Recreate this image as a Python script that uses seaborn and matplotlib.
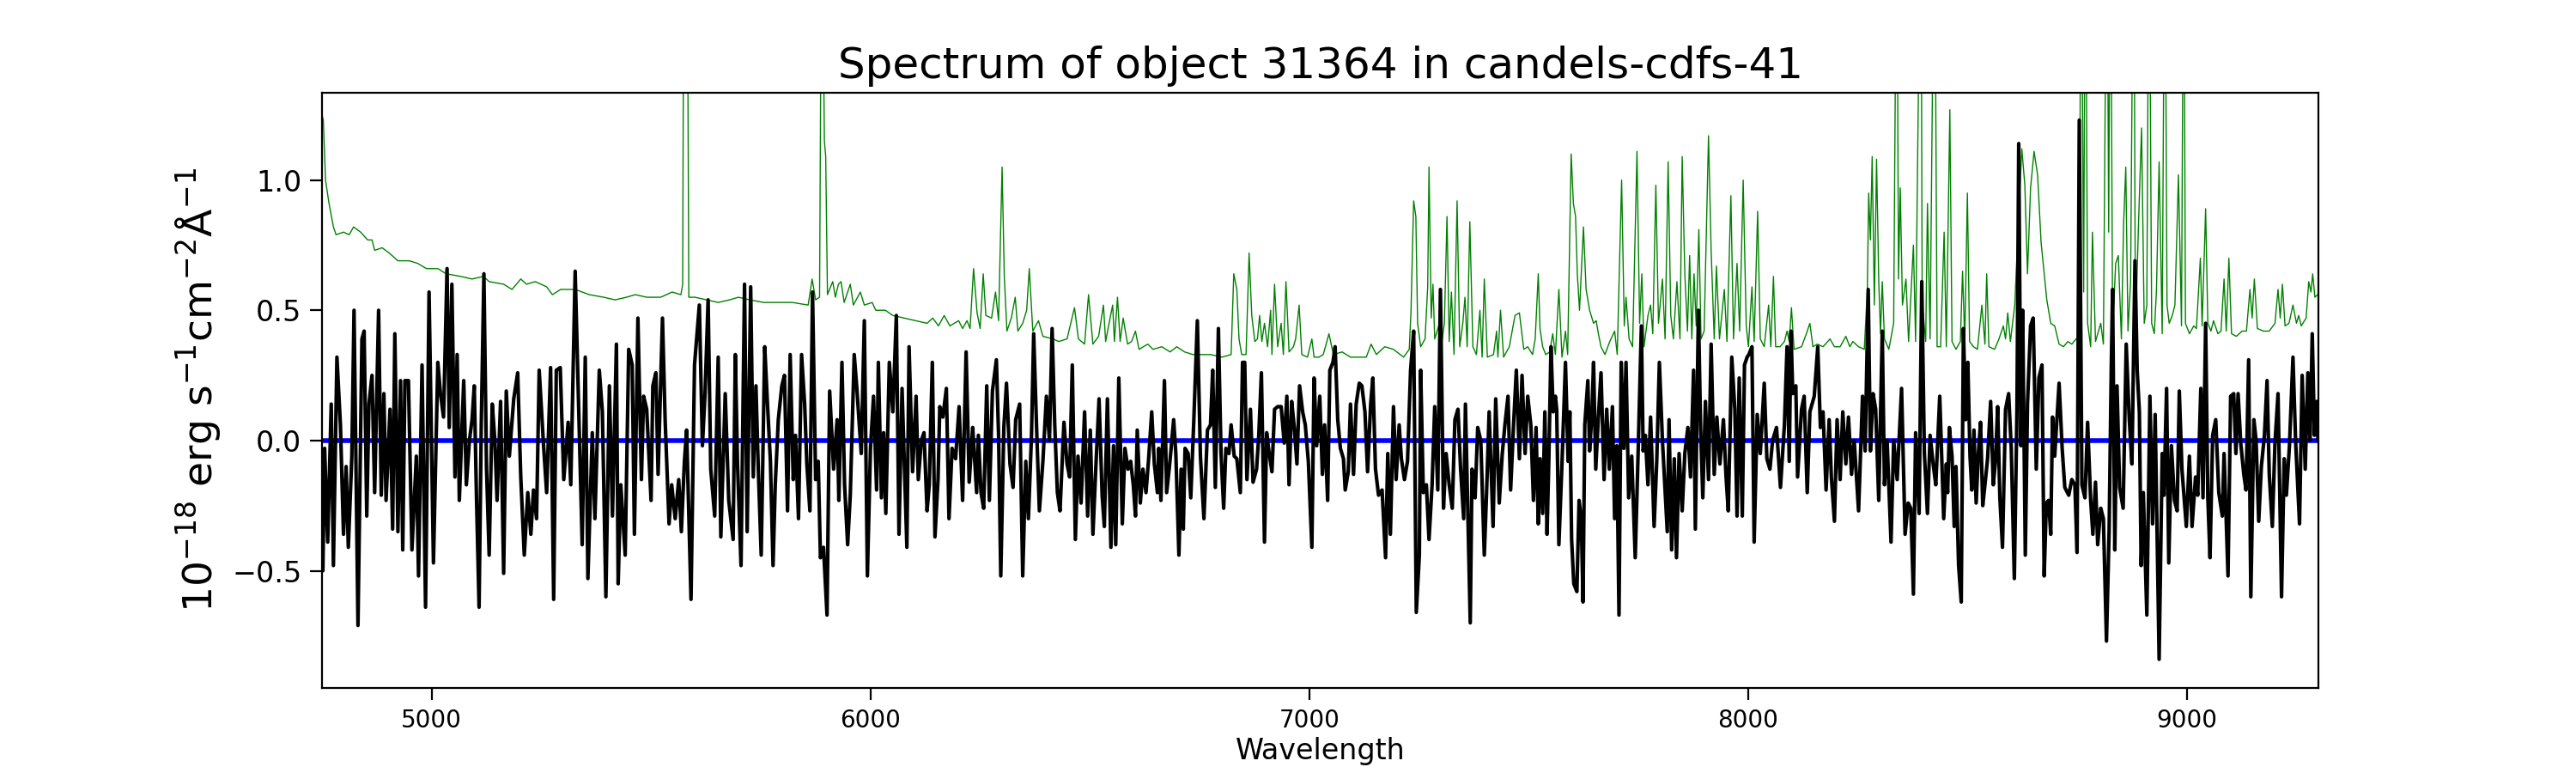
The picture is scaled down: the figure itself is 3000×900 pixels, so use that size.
import matplotlib
matplotlib.use("Agg")
import matplotlib.pyplot as plt
import pandas as pd
import seaborn as sns

# science spectrum (black)
sci_wave = [
    4752, 4756, 4763, 4771, 4776, 4784, 4792, 4799, 4805, 4810,
    4818, 4823, 4832, 4841, 4846, 4852, 4857, 4864, 4870, 4879,
    4885, 4891, 4896, 4905, 4911, 4916, 4923, 4929, 4934, 4939,
    4947, 4955, 4965, 4970, 4978, 4986, 4994, 5004, 5014, 5020,
    5027, 5035, 5040, 5046, 5053, 5058, 5063, 5073, 5079, 5086,
    5092, 5097, 5102, 5108, 5113, 5119, 5125, 5131, 5138, 5144,
    5149, 5157, 5164, 5170, 5177, 5187, 5196, 5203, 5211, 5219,
    5226, 5232, 5239, 5245, 5255, 5262, 5271, 5278, 5284, 5293,
    5301, 5311, 5317, 5327, 5337, 5343, 5350, 5356, 5366, 5372,
    5382, 5389, 5397, 5405, 5412, 5421, 5425, 5431, 5441, 5449,
    5457, 5462, 5470, 5478, 5483, 5490, 5500, 5504, 5511, 5516,
    5526, 5532, 5541, 5547, 5555, 5563, 5569, 5576, 5581, 5591,
    5599, 5610, 5617, 5623, 5630, 5636, 5645, 5653, 5659, 5669,
    5677, 5687, 5692, 5697, 5705, 5713, 5719, 5727, 5733, 5739,
    5744, 5751, 5759, 5765, 5772, 5778, 5783, 5790, 5798, 5804,
    5811, 5817, 5824, 5829, 5836, 5843, 5850, 5855, 5862, 5868,
    5875, 5881, 5886, 5893, 5901, 5907, 5916, 5924, 5928, 5935,
    5941, 5948, 5954, 5963, 5969, 5979, 5986, 5993, 6000, 6007,
    6014, 6018, 6025, 6030, 6035, 6043, 6051, 6059, 6065, 6072,
    6077, 6083, 6088, 6096, 6104, 6109, 6116, 6122, 6129, 6134,
    6141, 6147, 6154, 6158, 6165, 6173, 6179, 6186, 6194, 6202,
    6210, 6218, 6225, 6233, 6242, 6246, 6252, 6258, 6265, 6271,
    6278, 6287, 6292, 6297, 6304, 6310, 6318, 6325, 6331, 6340,
    6347, 6354, 6360, 6367, 6372, 6379, 6385, 6393, 6401, 6408,
    6414, 6420, 6426, 6432, 6441, 6448, 6454, 6460, 6467, 6473,
    6480, 6488, 6495, 6501, 6507, 6514, 6521, 6528, 6533, 6540,
    6548, 6554, 6559, 6566, 6574, 6580, 6587, 6593, 6599, 6604,
    6608, 6615, 6621, 6628, 6634, 6641, 6647, 6654, 6657, 6662,
    6670, 6675, 6682, 6691, 6696, 6703, 6708, 6713, 6717, 6724,
    6730, 6737, 6745, 6752, 6760, 6768, 6775, 6780, 6786, 6793,
    6799, 6805, 6810, 6817, 6822, 6829, 6835, 6843, 6848, 6853,
    6858, 6866, 6872, 6880, 6885, 6891, 6898, 6903, 6908, 6915,
    6921, 6928, 6936, 6943, 6949, 6954, 6960, 6966, 6972, 6978,
    6985, 6991, 6998, 7006, 7011, 7017, 7024, 7030, 7035, 7042,
    7047, 7054, 7059, 7065, 7071, 7078, 7082, 7089, 7094, 7101,
    7107, 7114, 7120, 7127, 7133, 7140, 7145, 7151, 7158, 7166,
    7174, 7179, 7185, 7192, 7198, 7205, 7210, 7217, 7224, 7231,
    7238, 7244, 7251, 7254, 7260, 7267, 7273, 7280, 7286, 7293,
    7299, 7306, 7312, 7319, 7326, 7332, 7339, 7345, 7352, 7356,
    7367, 7371, 7378, 7384, 7391, 7399, 7404, 7410, 7419, 7425,
    7433, 7440, 7446, 7453, 7459, 7466, 7472, 7479, 7485, 7492,
    7498, 7505, 7511, 7517, 7522, 7526, 7532, 7537, 7542, 7546,
    7551, 7556, 7561, 7564, 7569, 7576, 7584, 7590, 7594, 7598,
    7603, 7610, 7615, 7620, 7624, 7628, 7635, 7639, 7644, 7648,
    7653, 7659, 7665, 7672, 7678, 7684, 7691, 7696, 7701, 7706,
    7711, 7717, 7722, 7728, 7735, 7743, 7750, 7757, 7761, 7766,
    7772, 7778, 7786, 7792, 7798, 7805, 7811, 7816, 7820, 7826,
    7832, 7837, 7843, 7850, 7856, 7863, 7869, 7876, 7880, 7887,
    7892, 7897, 7903, 7910, 7916, 7923, 7929, 7936, 7944, 7950,
    7955, 7963, 7970, 7975, 7980, 7987, 7992, 7998, 8002, 8009,
    8014, 8021, 8028, 8037, 8043, 8050, 8056, 8065, 8074, 8083,
    8089, 8094, 8098, 8102, 8109, 8113, 8122, 8128, 8135, 8141,
    8151, 8159, 8165, 8171, 8178, 8185, 8190, 8197, 8203, 8210,
    8216, 8223, 8229, 8236, 8242, 8252, 8261, 8267, 8274, 8279,
    8285, 8291, 8298, 8306, 8311, 8317, 8326, 8332, 8340, 8350,
    8358, 8365, 8371, 8377, 8382, 8390, 8396, 8402, 8409, 8415,
    8422, 8428, 8437, 8446, 8452, 8455, 8459, 8465, 8470, 8474,
    8480, 8486, 8491, 8496, 8501, 8506, 8510, 8515, 8520, 8525,
    8530, 8535, 8540, 8546, 8553, 8559, 8564, 8569, 8574, 8580,
    8587, 8594, 8600, 8607, 8613, 8617, 8622, 8626, 8632, 8637,
    8644, 8650, 8657, 8663, 8670, 8675, 8680, 8685, 8690, 8694,
    8699, 8709, 8716, 8722, 8731, 8738, 8745, 8750, 8755, 8761,
    8768, 8774, 8781, 8786, 8792, 8797, 8804, 8810, 8817, 8823,
    8828, 8831, 8836, 8841, 8847, 8855, 8862, 8869, 8875, 8882,
    8887, 8892, 8896, 8901, 8909, 8916, 8922, 8928, 8937, 8944,
    8948, 8954, 8959, 8965, 8972, 8978, 8983, 8989, 8999, 9006,
    9012, 9020, 9025, 9032, 9037, 9043, 9048, 9053, 9059, 9066,
    9073, 9081, 9085, 9094, 9100, 9107, 9112, 9117, 9123, 9130,
    9135, 9141, 9146, 9153, 9158, 9164, 9170, 9177, 9183, 9188,
    9195, 9201, 9208, 9216, 9222, 9227, 9234, 9242, 9248, 9257,
    9263, 9270, 9276, 9281, 9286, 9291, 9296, 9299,
]
sci_flux = [
    -0.50, -0.03, -0.39, 0.14, -0.48, 0.32, 0.06, -0.36, -0.10, -0.41,
    -0.06, 0.50, -0.71, 0.39, 0.42, -0.29, 0.14, 0.25, -0.20, 0.50,
    -0.21, 0.18, -0.23, 0.12, -0.34, 0.41, -0.35, 0.23, -0.42, 0.23,
    0.23, -0.42, -0.06, -0.52, 0.29, -0.64, 0.57, -0.47, 0.30, 0.18,
    0.09, 0.66, 0.05, 0.60, -0.14, 0.33, -0.23, 0.23, -0.17, 0.00,
    0.08, 0.21, -0.21, -0.64, 0.06, 0.64, -0.11, -0.44, 0.14, 0.00,
    -0.23, 0.15, -0.51, 0.19, -0.06, 0.16, 0.26, -0.14, -0.44, -0.20,
    -0.36, -0.19, -0.30, 0.27, -0.02, -0.20, 0.28, -0.61, 0.27, 0.28,
    -0.15, 0.07, -0.17, 0.65, 0.00, -0.40, 0.32, -0.53, 0.03, -0.30,
    0.27, 0.11, -0.60, 0.21, -0.29, 0.37, -0.55, -0.17, -0.44, 0.35,
    0.29, -0.36, 0.47, -0.15, 0.17, 0.12, -0.23, 0.21, 0.26, -0.13,
    0.47, 0.08, -0.32, -0.17, -0.30, -0.15, -0.35, -0.08, 0.04, -0.61,
    0.29, 0.52, -0.02, 0.18, 0.54, -0.11, -0.29, 0.32, -0.37, 0.18,
    -0.23, -0.38, 0.33, -0.09, -0.48, 0.60, -0.35, 0.59, -0.14, 0.21,
    -0.09, -0.44, 0.36, 0.15, -0.08, -0.48, -0.17, 0.08, 0.21, 0.25,
    -0.27, 0.33, -0.15, 0.02, -0.30, 0.33, 0.14, -0.09, -0.27, 0.57,
    -0.15, -0.08, -0.45, -0.41, -0.67, 0.19, -0.11, 0.08, -0.23, 0.30,
    -0.17, -0.40, -0.21, 0.33, 0.20, -0.05, 0.46, -0.52, -0.03, 0.17,
    -0.19, 0.30, -0.22, 0.03, -0.28, 0.30, 0.11, 0.48, -0.36, 0.20,
    -0.08, -0.41, 0.36, -0.12, 0.17, -0.15, 0.00, 0.03, -0.27, -0.17,
    0.30, -0.37, -0.15, 0.13, 0.09, 0.20, -0.30, -0.03, -0.07, 0.13,
    -0.23, 0.34, -0.16, 0.05, -0.20, 0.02, -0.20, -0.26, 0.21, -0.23,
    0.19, 0.31, 0.02, -0.52, 0.05, 0.22, -0.09, -0.18, 0.08, 0.14,
    -0.52, -0.08, -0.30, 0.02, 0.41, 0.03, -0.27, -0.08, 0.17, 0.00,
    0.43, 0.06, -0.20, -0.27, 0.07, -0.09, -0.14, 0.29, -0.38, -0.06,
    -0.24, 0.11, -0.29, 0.04, -0.36, -0.09, 0.16, -0.21, -0.33, 0.16,
    -0.41, -0.02, -0.40, 0.24, -0.32, -0.03, -0.11, -0.08, -0.17, -0.29,
    0.04, -0.24, -0.11, -0.20, -0.07, 0.11, -0.09, -0.20, -0.03, -0.23,
    0.23, -0.20, -0.09, 0.08, -0.05, -0.44, -0.11, -0.34, -0.03, -0.05,
    -0.22, 0.08, 0.46, -0.06, -0.30, 0.04, 0.06, 0.27, -0.18, 0.43,
    -0.05, -0.26, -0.03, -0.05, 0.06, -0.06, -0.07, -0.20, 0.30, 0.30,
    -0.15, 0.12, -0.16, -0.11, 0.02, 0.26, -0.39, 0.03, -0.04, -0.12,
    0.12, 0.13, 0.13, -0.01, 0.17, -0.17, 0.15, 0.05, -0.09, 0.21,
    0.11, 0.06, -0.08, -0.41, 0.24, -0.02, 0.17, -0.13, 0.06, -0.23,
    0.27, 0.30, 0.36, 0.08, -0.03, -0.07, -0.19, -0.12, 0.14, -0.13,
    0.14, 0.22, 0.21, 0.11, -0.12, 0.14, 0.24, -0.11, -0.21, -0.19,
    -0.45, -0.05, -0.36, 0.13, -0.15, 0.06, -0.07, -0.15, -0.08, 0.27,
    0.42, -0.66, -0.44, 0.27, -0.20, -0.17, -0.38, -0.17, 0.13, -0.19,
    0.58, -0.26, -0.05, -0.17, -0.26, 0.08, 0.12, -0.11, -0.30, 0.14,
    -0.70, -0.11, -0.22, 0.05, 0.00, -0.44, -0.21, 0.11, -0.33, 0.16,
    -0.24, -0.05, 0.06, 0.17, -0.19, 0.07, 0.27, -0.07, 0.25, -0.05,
    0.17, 0.06, -0.23, 0.05, -0.32, -0.07, -0.28, 0.11, -0.36, -0.08,
    0.36, 0.11, 0.17, 0.12, -0.40, -0.09, 0.30, -0.08, 0.11, -0.38,
    -0.55, -0.58, -0.23, -0.30, -0.62, 0.06, 0.23, -0.04, 0.09, 0.30,
    -0.11, 0.09, 0.26, -0.15, 0.12, -0.11, 0.13, -0.30, -0.02, -0.67,
    0.30, -0.03, 0.30, -0.22, -0.06, -0.45, -0.02, 0.44, -0.04, 0.02,
    -0.17, 0.09, -0.33, -0.08, 0.30, 0.00, -0.19, -0.35, 0.08, -0.42,
    -0.07, -0.45, -0.05, -0.27, -0.05, 0.05, -0.14, 0.27, -0.34, 0.50,
    0.05, -0.22, 0.15, -0.15, 0.37, -0.13, 0.09, -0.09, 0.08, -0.14,
    -0.27, 0.32, 0.12, -0.29, 0.24, -0.29, 0.29, 0.32, 0.33, 0.36,
    -0.39, 0.10, -0.05, 0.22, -0.07, -0.11, 0.00, 0.05, -0.18, 0.06,
    0.36, -0.08, 0.42, 0.18, 0.21, -0.14, 0.12, 0.17, -0.20, 0.11,
    0.17, 0.36, 0.05, 0.11, -0.19, 0.08, -0.14, -0.31, 0.08, -0.15,
    0.11, -0.09, 0.09, -0.13, 0.00, -0.27, 0.17, -0.04, 0.58, -0.04,
    0.18, 0.12, -0.23, 0.42, -0.17, 0.00, -0.39, 0.00, -0.15, 0.20,
    -0.36, -0.24, -0.26, -0.59, 0.03, -0.28, 0.61, -0.05, -0.28, 0.02,
    -0.09, -0.17, 0.17, -0.30, -0.09, -0.20, 0.05, -0.06, -0.33, -0.10,
    -0.48, -0.62, 0.43, 0.08, 0.30, -0.06, -0.19, 0.04, -0.24, -0.05,
    0.07, -0.25, -0.17, -0.07, 0.15, -0.17, -0.08, 0.13, -0.22, -0.41,
    0.12, 0.18, -0.03, -0.53, 0.12, 1.14, -0.02, 0.50, -0.44, 0.14,
    0.44, 0.47, -0.11, 0.24, 0.29, -0.52, -0.24, -0.23, -0.36, 0.09,
    -0.06, 0.22, -0.03, -0.18, -0.21, -0.15, -0.17, -0.43, 1.23, -0.17,
    -0.22, 0.07, -0.23, -0.36, -0.16, -0.40, -0.26, -0.30, -0.77, -0.35,
    0.29, 0.58, -0.42, 0.21, -0.18, -0.26, 0.37, 0.08, -0.09, 0.69,
    0.27, 0.11, -0.48, -0.20, -0.67, 0.17, -0.32, 0.10, -0.84, -0.05,
    -0.21, 0.20, -0.47, -0.02, -0.23, -0.27, 0.19, -0.11, -0.33, -0.06,
    -0.33, -0.14, -0.21, 0.20, -0.22, 0.45, -0.22, -0.45, 0.02, 0.08,
    -0.20, -0.29, -0.05, -0.52, 0.17, 0.18, -0.05, 0.18, -0.01, -0.13,
    -0.19, 0.31, -0.60, 0.08, 0.00, -0.31, -0.10, 0.02, 0.23, -0.13,
    -0.33, -0.01, 0.18, -0.60, -0.07, -0.21, -0.02, 0.32, 0.00, -0.32,
    0.25, -0.11, 0.26, 0.00, 0.41, 0.02, 0.15, 0.00,
]

# sky / noise spectrum (green); clipped lines given as 2.2
sky_wave = [
    4750, 4753, 4758, 4766, 4776, 4782, 4799, 4812, 4822, 4838,
    4854, 4864, 4870, 4887, 4903, 4923, 4949, 4968, 4988, 5014,
    5033, 5066, 5092, 5118, 5131, 5164, 5183, 5203, 5216, 5236,
    5262, 5275, 5294, 5327, 5359, 5392, 5418, 5444, 5464, 5490,
    5522, 5548, 5568, 5572, 5575, 5582, 5586, 5600, 5627, 5653,
    5679, 5699, 5725, 5757, 5790, 5822, 5858, 5867, 5875, 5884,
    5889, 5895, 5898, 5902, 5914, 5920, 5927, 5933, 5940, 5954,
    5961, 5977, 5986, 6004, 6012, 6034, 6051, 6077, 6103, 6129,
    6142, 6155, 6168, 6181, 6201, 6210, 6220, 6227, 6235, 6243,
    6250, 6257, 6263, 6276, 6285, 6292, 6300, 6305, 6311, 6321,
    6330, 6336, 6347, 6356, 6362, 6370, 6383, 6393, 6416, 6429,
    6448, 6465, 6474, 6488, 6497, 6507, 6520, 6531, 6536, 6545,
    6552, 6556, 6563, 6569, 6576, 6586, 6595, 6604, 6612, 6632,
    6644, 6664, 6683, 6698, 6716, 6735, 6755, 6775, 6801, 6822,
    6828, 6835, 6840, 6846, 6856, 6863, 6869, 6876, 6882, 6887,
    6892, 6898, 6905, 6912, 6915, 6921, 6928, 6936, 6941, 6947,
    6954, 6964, 6969, 6977, 6983, 6996, 7006, 7011, 7022, 7032,
    7045, 7055, 7075, 7094, 7114, 7130, 7141, 7153, 7172, 7192,
    7215, 7228, 7232, 7238, 7243, 7247, 7254, 7264, 7270, 7273,
    7278, 7282, 7286, 7295, 7301, 7308, 7314, 7319, 7324, 7330,
    7337, 7343, 7350, 7355, 7360, 7366, 7373, 7381, 7389, 7394,
    7399, 7406, 7420, 7427, 7430, 7436, 7443, 7456, 7469, 7479,
    7489, 7498, 7509, 7515, 7522, 7526, 7532, 7539, 7548, 7555,
    7561, 7569, 7576, 7584, 7589, 7597, 7602, 7607, 7611, 7616,
    7625, 7631, 7639, 7648, 7654, 7659, 7665, 7674, 7685, 7696,
    7702, 7712, 7718, 7722, 7729, 7737, 7747, 7753, 7758, 7763,
    7772, 7778, 7783, 7790, 7796, 7805, 7811, 7818, 7824, 7830,
    7838, 7845, 7850, 7856, 7862, 7867, 7872, 7877, 7882, 7888,
    7893, 7900, 7910, 7916, 7923, 7928, 7935, 7946, 7952, 7961,
    7967, 7975, 7981, 7989, 7996, 8001, 8009, 8014, 8022, 8028,
    8037, 8047, 8052, 8058, 8063, 8073, 8083, 8089, 8094, 8099,
    8105, 8122, 8133, 8141, 8148, 8158, 8171, 8187, 8197, 8210,
    8223, 8232, 8239, 8252, 8265, 8272, 8275, 8279, 8283, 8288,
    8293, 8298, 8302, 8306, 8311, 8321, 8332, 8339, 8343, 8347,
    8352, 8360, 8366, 8377, 8382, 8394, 8397, 8405, 8409, 8415,
    8425, 8431, 8439, 8447, 8452, 8460, 8465, 8474, 8484, 8489,
    8494, 8500, 8505, 8514, 8523, 8533, 8540, 8544, 8549, 8562,
    8572, 8582, 8587, 8592, 8598, 8608, 8615, 8624, 8631, 8637,
    8644, 8652, 8660, 8668, 8675, 8681, 8690, 8699, 8709, 8719,
    8729, 8738, 8748, 8755, 8759, 8765, 8769, 8774, 8781, 8785,
    8792, 8804, 8810, 8818, 8822, 8826, 8831, 8838, 8844, 8851,
    8856, 8861, 8866, 8872, 8879, 8883, 8890, 8897, 8903, 8909,
    8914, 8920, 8926, 8931, 8937, 8944, 8950, 8955, 8960, 8967,
    8973, 8981, 8988, 8993, 8997, 9006, 9016, 9022, 9031, 9035,
    9043, 9048, 9055, 9061, 9071, 9078, 9085, 9090, 9096, 9102,
    9113, 9126, 9136, 9144, 9149, 9154, 9161, 9175, 9188, 9201,
    9208, 9213, 9218, 9224, 9233, 9242, 9250, 9255, 9261, 9272,
    9278, 9283, 9287, 9292, 9298,
]
sky_flux = [
    1.25, 1.23, 1.00, 0.91, 0.82, 0.79, 0.80, 0.79, 0.82, 0.80,
    0.77, 0.77, 0.73, 0.74, 0.72, 0.69, 0.69, 0.68, 0.66, 0.66,
    0.64, 0.63, 0.62, 0.63, 0.61, 0.60, 0.58, 0.62, 0.60, 0.61,
    0.59, 0.56, 0.58, 0.58, 0.56, 0.55, 0.54, 0.55, 0.56, 0.55,
    0.55, 0.57, 0.56, 0.60, 2.20, 2.20, 0.55, 0.55, 0.54, 0.53,
    0.54, 0.55, 0.54, 0.53, 0.53, 0.53, 0.52, 0.62, 0.54, 0.55,
    2.20, 1.15, 1.09, 0.56, 0.61, 0.55, 0.60, 0.61, 0.53, 0.60,
    0.52, 0.57, 0.52, 0.53, 0.50, 0.50, 0.48, 0.47, 0.46, 0.45,
    0.47, 0.44, 0.48, 0.44, 0.46, 0.43, 0.46, 0.43, 0.66, 0.49,
    0.43, 0.64, 0.48, 0.47, 0.57, 0.46, 1.05, 0.63, 0.42, 0.47,
    0.55, 0.42, 0.45, 0.50, 0.66, 0.42, 0.46, 0.40, 0.39, 0.38,
    0.39, 0.51, 0.39, 0.37, 0.56, 0.37, 0.40, 0.52, 0.38, 0.46,
    0.52, 0.38, 0.55, 0.38, 0.47, 0.37, 0.38, 0.42, 0.35, 0.37,
    0.35, 0.36, 0.34, 0.36, 0.34, 0.33, 0.33, 0.33, 0.32, 0.33,
    0.64, 0.58, 0.39, 0.33, 0.33, 0.72, 0.48, 0.38, 0.39, 0.48,
    0.38, 0.45, 0.36, 0.50, 0.33, 0.60, 0.36, 0.45, 0.33, 0.61,
    0.34, 0.36, 0.39, 0.52, 0.33, 0.32, 0.39, 0.32, 0.32, 0.33,
    0.41, 0.33, 0.34, 0.32, 0.32, 0.32, 0.37, 0.33, 0.36, 0.35,
    0.32, 0.35, 0.50, 0.92, 0.86, 0.45, 0.36, 0.39, 0.59, 1.05,
    0.47, 0.60, 0.39, 0.44, 0.36, 0.45, 0.86, 0.38, 0.57, 0.33,
    0.92, 0.36, 0.45, 0.55, 0.36, 0.84, 0.36, 0.33, 0.50, 0.32,
    0.62, 0.32, 0.33, 0.42, 0.32, 0.50, 0.32, 0.36, 0.48, 0.49,
    0.35, 0.36, 0.33, 0.39, 0.64, 0.43, 0.36, 0.33, 0.34, 0.41,
    0.33, 0.58, 0.32, 0.42, 0.33, 1.10, 0.91, 0.86, 0.64, 0.50,
    0.82, 0.58, 0.50, 0.45, 0.46, 0.41, 0.36, 0.33, 0.38, 0.42,
    0.33, 1.00, 0.44, 0.55, 0.39, 0.36, 1.11, 0.45, 0.64, 0.36,
    0.48, 0.52, 0.41, 0.98, 0.45, 0.62, 0.39, 1.07, 0.48, 0.39,
    0.61, 0.39, 1.09, 0.64, 0.42, 0.71, 0.39, 0.64, 0.44, 0.81,
    0.39, 0.42, 1.17, 0.73, 0.39, 0.67, 0.39, 0.58, 0.38, 0.94,
    0.39, 0.68, 0.42, 1.00, 0.44, 0.36, 0.59, 0.38, 0.88, 0.39,
    0.36, 0.52, 0.36, 0.63, 0.36, 0.36, 0.38, 0.42, 0.38, 0.51,
    0.35, 0.36, 0.41, 0.45, 0.36, 0.37, 0.36, 0.39, 0.36, 0.36,
    0.40, 0.36, 0.38, 0.36, 0.35, 0.58, 0.95, 0.77, 1.09, 0.52,
    1.08, 0.61, 0.41, 0.61, 0.39, 0.35, 0.45, 2.20, 0.62, 0.97,
    0.52, 0.62, 0.38, 0.75, 0.38, 2.20, 0.53, 0.38, 0.91, 0.39,
    2.20, 0.36, 0.36, 0.80, 0.36, 1.27, 0.38, 0.35, 0.38, 0.65,
    0.38, 0.95, 0.38, 0.36, 0.35, 0.52, 0.37, 0.64, 0.36, 0.35,
    0.39, 0.44, 0.39, 0.49, 0.38, 0.52, 0.79, 1.12, 0.98, 0.64,
    0.97, 1.11, 1.02, 0.76, 0.64, 0.54, 0.45, 0.44, 0.37, 0.36,
    0.38, 0.37, 0.39, 0.39, 2.20, 0.57, 2.20, 0.45, 0.36, 0.80,
    0.38, 0.45, 0.37, 2.20, 0.80, 2.20, 0.42, 0.68, 0.71, 0.39,
    0.83, 1.05, 0.42, 0.61, 2.20, 0.42, 0.83, 1.20, 0.45, 0.52,
    2.20, 0.45, 0.41, 0.58, 1.07, 0.41, 2.20, 0.52, 0.45, 0.48,
    0.52, 1.02, 0.44, 2.20, 0.45, 0.41, 0.44, 0.43, 0.70, 0.44,
    0.89, 0.45, 0.42, 0.46, 0.41, 0.42, 0.62, 0.42, 0.70, 0.41,
    0.40, 0.42, 0.42, 0.58, 0.47, 0.62, 0.43, 0.42, 0.42, 0.45,
    0.58, 0.47, 0.60, 0.44, 0.45, 0.52, 0.45, 0.48, 0.44, 0.47,
    0.61, 0.57, 0.64, 0.55, 0.56,
]

zero_level = 0.0
x_ticks = [5000, 6000, 7000, 8000, 9000]
y_ticks = [-0.5, 0.0, 0.5, 1.0]

title = "Spectrum of object 31364 in candels-cdfs-41"
x_label = "Wavelength"
y_label = r"$10^{-18}$ erg s$^{-1}$cm$^{-2}$Å$^{-1}$"

assert len(sci_wave) == len(sci_flux)
assert len(sky_wave) == len(sky_flux)

sci = pd.DataFrame({"wave": sci_wave, "flux": sci_flux})
sky = pd.DataFrame({"wave": sky_wave, "flux": sky_flux})

sns.set_theme(style="ticks", rc={
    "axes.edgecolor": "black",
    "axes.linewidth": 0.8,
    "xtick.color": "black",
    "ytick.color": "black",
    "text.color": "black",
    "axes.labelcolor": "black",
    "xtick.major.size": 5,
    "ytick.major.size": 5,
    "xtick.major.width": 0.8,
    "ytick.major.width": 0.8,
})
plt.rcParams["font.family"] = ["DejaVu Sans"]
plt.rcParams["mathtext.fontset"] = "dejavusans"

fig, ax = plt.subplots(figsize=(15, 4.5), dpi=200)
fig.subplots_adjust(left=0.125, right=0.9, bottom=0.11, top=0.88)

sns.lineplot(data=sky, x="wave", y="flux", ax=ax, color="green",
             linewidth=0.5, estimator=None, sort=False)
ax.axhline(zero_level, color="blue", linewidth=2.0)
sns.lineplot(data=sci, x="wave", y="flux", ax=ax, color="black",
             linewidth=1.5, estimator=None, sort=False)

ax.set_xlim(4750, 9300)
ax.set_ylim(-0.95, 1.335)
ax.set_xticks(x_ticks)
ax.set_yticks(y_ticks)
ax.tick_params(axis="x", labelsize=10)
ax.tick_params(axis="y", labelsize=12)

ax.set_title(title, fontsize=18)
ax.set_xlabel(x_label, fontsize=12, labelpad=2)
ax.set_ylabel(y_label, fontsize=17)

plt.savefig("out.png", dpi=200)
plt.close()
